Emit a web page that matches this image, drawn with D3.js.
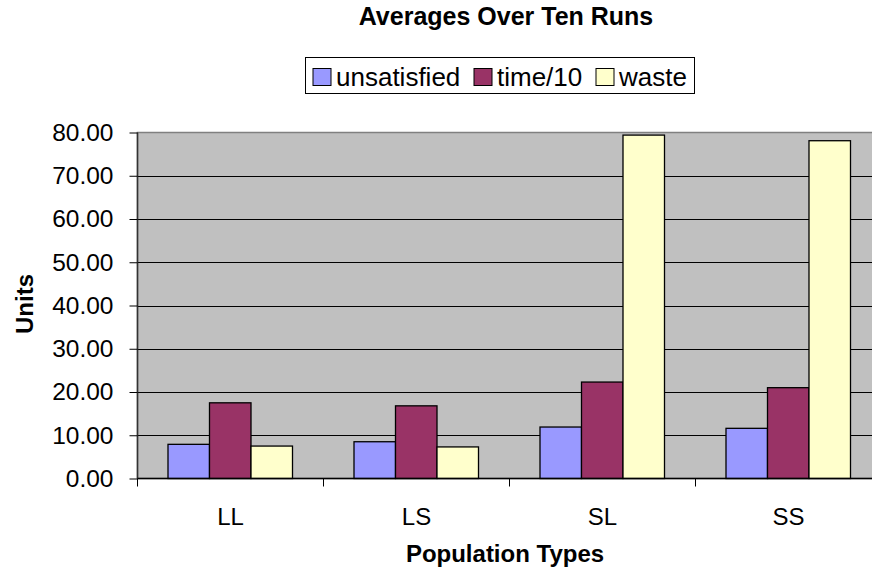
<!DOCTYPE html>
<html>
<head>
<meta charset="utf-8">
<script src="https://cdn.jsdelivr.net/npm/d3@7"></script>
<style>
  body { margin: 0; background: #fff; }
  text { font-family: "Liberation Sans", Arial, sans-serif; }
</style>
</head>
<body>
<svg id="chart" width="872" height="575"></svg>
<script>
// data
var categories = ["LL", "LS", "SL", "SS"];
var seriesNames = ["unsatisfied", "time/10", "waste"];
var unsatisfied = [7.9, 8.5, 11.9, 11.6];
var timeTen = [17.5, 16.8, 22.3, 21.0];
var waste = [7.5, 7.3, 79.4, 78.1];
var yTicks = [0, 10, 20, 30, 40, 50, 60, 70, 80];

var colors = ["#9999ff", "#993366", "#ffffcc"];
var allSeries = [unsatisfied, timeTen, waste];

// plot area (runs off the right side of the window like the original)
var plot = {left: 137.5, top: 132.5, bottom: 478.5, right: 881.5};

var svg = d3.select("#chart");

var xScale = d3.scaleBand()
    .domain(categories)
    .range([plot.left, plot.right]);

var xInner = d3.scaleBand()
    .domain(seriesNames)
    .range([30.5, 155]);

var yScale = d3.scaleLinear()
    .domain([0, 80])
    .range([plot.bottom, plot.top]);

// grey background
svg.append("rect")
  .attr("x", plot.left)
  .attr("y", plot.top)
  .attr("width", plot.right - plot.left)
  .attr("height", plot.bottom - plot.top)
  .style("fill", "#c0c0c0")
  .style("stroke", "#808080")
  .style("stroke-width", 1.5);

// gridlines
svg.append("g")
  .selectAll("line")
  .data(yTicks.slice(1, -1))
  .enter().append("line")
  .attr("x1", plot.left)
  .attr("x2", plot.right)
  .attr("y1", function(d) { return Math.round(yScale(d)) + 0.5; })
  .attr("y2", function(d) { return Math.round(yScale(d)) + 0.5; })
  .style("stroke", "#000")
  .style("stroke-width", 1);

// bars
var groups = svg.append("g")
  .selectAll("g")
  .data(categories)
  .enter().append("g")
  .attr("transform", function(d) { return "translate(" + xScale(d) + ",0)"; });

groups.selectAll("rect")
  .data(function(d, i) {
    return seriesNames.map(function(s, j) { return {name: s, value: allSeries[j][i], idx: j}; });
  })
  .enter().append("rect")
  .attr("x", function(d) { return xInner(d.name); })
  .attr("y", function(d) { return yScale(d.value); })
  .attr("width", xInner.bandwidth())
  .attr("height", function(d) { return plot.bottom - yScale(d.value); })
  .style("fill", function(d) { return colors[d.idx]; })
  .style("stroke", "#000")
  .style("stroke-width", 1.3);

// y axis
var yAxis = d3.axisLeft(yScale)
    .tickValues(yTicks)
    .tickFormat(d3.format(".2f"))
    .tickSize(8)
    .tickPadding(16);
var gy = svg.append("g")
  .attr("transform", "translate(" + plot.left + ",0)")
  .call(yAxis);
gy.selectAll("text")
  .style("font-size", "24.5px")
  .style("fill", "#000");
gy.selectAll("line, path").style("stroke", "#000");
gy.select(".domain").attr("d", "M0," + plot.top + "V" + plot.bottom).style("stroke", "#333").style("stroke-width", 1.5);

// x axis with ticks between categories
var xAxis = d3.axisBottom(xScale).tickSize(0).tickPadding(29);
var gx = svg.append("g")
  .attr("transform", "translate(0," + plot.bottom + ")")
  .call(xAxis);
gx.select(".domain").attr("d", "M" + plot.left + ",0H" + plot.right).style("stroke", "#000").style("stroke-width", 1.5);
gx.selectAll("text")
  .style("font-size", "24px")
  .style("fill", "#000");
gx.selectAll(".sep")
  .data(categories)
  .enter().append("line")
  .attr("class", "sep")
  .attr("x1", function(d) { return xScale(d); })
  .attr("x2", function(d) { return xScale(d); })
  .attr("y1", 0)
  .attr("y2", 8)
  .style("stroke", "#000");

// title
svg.append("text")
  .attr("x", 506)
  .attr("y", 25)
  .attr("text-anchor", "middle")
  .style("font-size", "25px")
  .style("font-weight", "bold")
  .text("Averages Over Ten Runs");

// axis titles
svg.append("text")
  .attr("x", 505)
  .attr("y", 562)
  .attr("text-anchor", "middle")
  .style("font-size", "24px")
  .style("font-weight", "bold")
  .text("Population Types");

svg.append("text")
  .attr("transform", "translate(33,304) rotate(-90)")
  .attr("text-anchor", "middle")
  .style("font-size", "24px")
  .style("font-weight", "bold")
  .text("Units");

// legend
var legend = svg.append("g");
legend.append("rect")
  .attr("x", 305.5)
  .attr("y", 57.5)
  .attr("width", 389)
  .attr("height", 36)
  .style("fill", "#fff")
  .style("stroke", "#000");

var legendX = [313, 474, 596];
var items = legend.selectAll(".item")
  .data(seriesNames)
  .enter().append("g")
  .attr("class", "item")
  .attr("transform", function(d, i) { return "translate(" + legendX[i] + ",68.5)"; });
items.append("rect")
  .attr("width", 18)
  .attr("height", 17)
  .style("fill", function(d, i) { return colors[i]; })
  .style("stroke", "#000");
items.append("text")
  .attr("x", 23)
  .attr("y", 17)
  .style("font-size", "26px")
  .text(function(d) { return d; });
</script>
</body>
</html>
